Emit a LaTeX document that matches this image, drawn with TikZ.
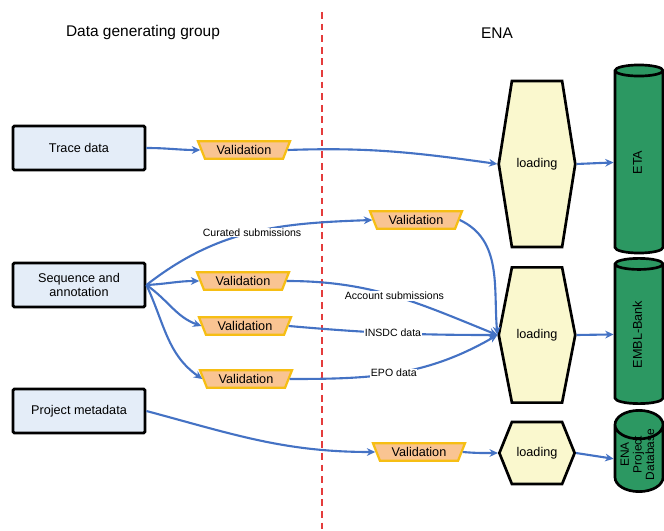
\documentclass[tikz,border=0pt]{standalone}
\usepackage{fontspec}
\setmainfont{Liberation Sans}
\usetikzlibrary{positioning,shapes.geometric,shapes.symbols,arrows.meta}
\definecolor{groupblue}{RGB}{228,237,248}
\definecolor{validfill}{RGB}{249,196,146}
\definecolor{validdraw}{RGB}{246,190,20}
\definecolor{loadfill}{RGB}{250,248,206}
\definecolor{dbgreen}{RGB}{44,152,98}
\definecolor{flowblue}{RGB}{68,114,196}
\definecolor{splitred}{RGB}{228,60,60}
\newcommand{\enaheadfont}{\fontsize{11}{13}\selectfont}
\newcommand{\enaboxfont}{\fontsize{9}{10.5}\selectfont}
\newcommand{\enaedgefont}{\fontsize{7.5}{9}\selectfont}
\newcommand{\enadbfont}{\fontsize{8.5}{9}\selectfont}
% rotated text that takes no room along the cylinder axis
\newcommand{\enaupright}[2][0pt]{\raisebox{\dimexpr-0.5\height+#1\relax}[0pt][0pt]{\rotatebox{90}{\begin{tabular}{@{}c@{}}#2\end{tabular}}}}
\tikzstyle{source} = [rectangle, rounded corners=1pt, minimum width=3.3cm, minimum height=1.1cm, align=center, draw=black, line width=2pt, fill=groupblue, font=\enaboxfont]
\tikzstyle{validation} = [trapezium, trapezium left angle=60, trapezium right angle=60, shape border rotate=180, trapezium stretches body, minimum width=2.3cm, minimum height=0.44cm, inner sep=1pt, draw=validdraw, line width=1.6pt, fill=validfill, font=\enaboxfont]
\tikzstyle{loading} = [signal, signal to=west and east, minimum width=1.83cm, draw=black, line width=1.9pt, fill=loadfill, font=\enaboxfont]
\tikzstyle{database} = [cylinder, shape border rotate=90, aspect=0.75, anchor=shape center, minimum width=1.2cm, draw=black, line width=1.9pt, fill=dbgreen, inner sep=0pt, font=\enaboxfont]
\tikzstyle{divider} = [draw=splitred, line width=0.8pt, dash pattern=on 0.17cm off 0.12cm]
\tikzstyle{flow} = [-{Stealth[length=6pt,width=5.5pt]}, draw=flowblue, line width=1.5pt]
\tikzstyle{flowlabel} = [fill=white, inner sep=0.5pt, font=\enaedgefont]

\begin{document}
\begin{tikzpicture}[x=0.025cm, y=0.025cm]
    \useasboundingbox (0,0) rectangle (664,-531);
    \node (data-group) [font=\enaheadfont] at (143,-33) {Data generating group};
    \node (ena) [font=\enaheadfont] at (497,-33) {ENA};
    \coordinate (divider-top) at (322,-12);
    \coordinate (divider-bottom) at (322,-531);
    \draw [divider] (divider-top) -- (divider-bottom);

    \node (trace-data) [source] at (79,-148) {Trace data};
    \node (sequence-and-annotation) [source] at (79,-285) {Sequence and\\annotation};
    \node (project-metadata) [source] at (79,-411) {Project metadata};

    \node (trace-validation) [validation] at (244,-150) {Validation};
    \node (curated-validation) [validation] at (416,-220) {Validation};
    \node (account-validation) [validation] at (243,-281) {Validation};
    \node (insdc-validation) [validation] at (245,-326) {Validation};
    \node (epo-validation) [validation] at (246,-379) {Validation};
    \node (project-validation) [validation] at (419,-452) {Validation};

    \node (trace-loading) [loading, minimum height=4.15cm, signal pointer angle=162] at (537,-164) {loading};
    \node (sequence-loading) [loading, minimum height=3.38cm, signal pointer angle=158] at (537,-335) {loading};
    \node (project-loading) [loading, minimum height=1.55cm, signal pointer angle=136] at (537,-453) {loading};

    \node (eta) [database, minimum height=4.7cm] at (639,-159) {\enaupright{ETA}};
    \node (embl-bank) [database, minimum height=3.63cm] at (639,-331) {\enaupright{EMBL-Bank}};
    \node (project-database) [database, minimum height=2.03cm, font=\enadbfont] at (639,-451) {\enaupright[3pt]{ENA\\Project\\Database}};

    \draw [flow] (trace-data.east) to[out=0,in=180] (trace-validation.west);
    \draw [flow] (trace-validation.east) to[out=2,in=172] (trace-loading.west);
    \draw [flow] (sequence-and-annotation.east) to[out=38,in=182] node[flowlabel, pos=0.5] {Curated submissions} (curated-validation.west);
    \draw [flow] (curated-validation.east) to[out=-25,in=95] (sequence-loading.west);
    \draw [flow] (sequence-and-annotation.east) to[out=3,in=180] (account-validation.west);
    \draw [flow] (account-validation.east) to[out=0,in=158] node[flowlabel, pos=0.5] {Account submissions} (sequence-loading.west);
    \draw [flow] (sequence-and-annotation.east) to[out=-35,in=160] (insdc-validation.west);
    \draw [flow] (insdc-validation.east) to[out=-5,in=180] node[flowlabel, pos=0.5] {INSDC data} (sequence-loading.west);
    \draw [flow] (sequence-and-annotation.east) to[out=-65,in=145] (epo-validation.west);
    \draw [flow] (epo-validation.east) to[out=0,in=210] node[flowlabel, pos=0.48] {EPO data} (sequence-loading.west);
    \draw [flow] (project-metadata.east) to[out=-15,in=180] (project-validation.west);
    \draw [flow] (project-validation.east) to[out=-5,in=180] (project-loading.west);
    \draw [flow] (trace-loading.east) -- (eta.west);
    \draw [flow] (sequence-loading.east) -- (embl-bank.west);
    \draw [flow] (project-loading.east) -- (project-database.west);
\end{tikzpicture}
\end{document}
